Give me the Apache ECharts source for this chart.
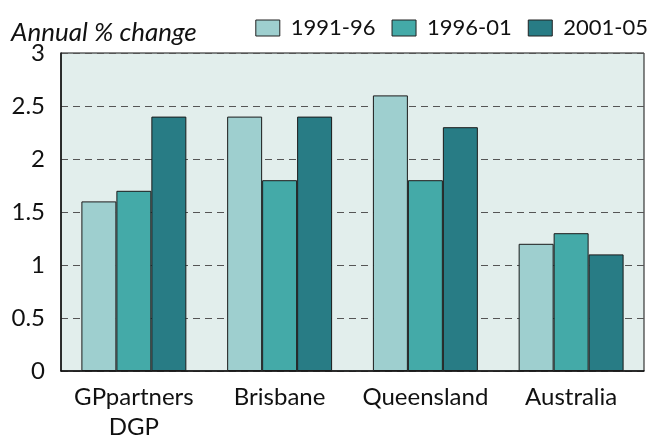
<!DOCTYPE html>
<html>
<head>
<meta charset="utf-8">
<script src="https://cdn.jsdelivr.net/npm/echarts@6/dist/echarts.min.js"></script>
<style>
  html, body { margin: 0; padding: 0; background: #fff; }
  #chart { width: 659px; height: 435px; }
</style>
</head>
<body>
<div id="chart"></div>
<script>
var categories = ['GPpartners\nDGP', 'Brisbane', 'Queensland', 'Australia'];
var seriesNames = ['1991-96', '1996-01', '2001-05'];
var values1991 = [1.6, 2.4, 2.6, 1.2];
var values1996 = [1.7, 1.8, 1.8, 1.3];
var values2001 = [2.4, 2.4, 2.3, 1.1];
var colors = ['#9ecfcf', '#44aaa8', '#287c85'];

var font = 'Lato, "DejaVu Sans", sans-serif';

function makeSeries(name, data, color) {
    return {
        name: name,
        type: 'bar',
        data: data,
        barGap: '0%',
        barCategoryGap: '28%',
        itemStyle: {
            color: color,
            borderColor: '#1a1a1a',
            borderWidth: 1
        }
    };
}

var chart = echarts.init(document.getElementById('chart'));
chart.setOption({
    animation: false,
    textStyle: { fontFamily: font },
    title: {
        text: 'Annual % change',
        left: 6,
        top: 15,
        textStyle: { fontFamily: font, fontStyle: 'italic', fontWeight: 'normal', fontSize: 26, color: '#111' }
    },
    legend: {
        data: seriesNames,
        right: 6,
        top: 12,
        itemWidth: 24,
        itemHeight: 16,
        itemGap: 16,
        icon: 'rect',
        itemStyle: { borderColor: '#222', borderWidth: 1 },
        textStyle: { fontFamily: font, fontSize: 22, color: '#111', padding: [0, 0, 0, 6] }
    },
    grid: {
        left: 61,
        right: 15,
        top: 53,
        bottom: 64,
        outerBoundsMode: 'none',
        show: true,
        backgroundColor: '#e2eeec',
        borderColor: '#111',
        borderWidth: 1
    },
    xAxis: {
        type: 'category',
        data: categories,
        axisLine: { lineStyle: { color: '#111', width: 1.5 } },
        axisTick: { show: false },
        axisLabel: { interval: 0, fontFamily: font, fontSize: 24, color: '#111', margin: 11, lineHeight: 30 }
    },
    yAxis: {
        type: 'value',
        min: 0,
        max: 3,
        interval: 0.5,
        axisLine: { show: true, lineStyle: { color: '#111', width: 1.5 } },
        axisTick: { show: false },
        axisLabel: { fontFamily: font, fontSize: 24, color: '#111', margin: 16 },
        splitLine: { lineStyle: { color: '#555', type: [7, 5], width: 1 } }
    },
    series: [
        makeSeries(seriesNames[0], values1991, colors[0]),
        makeSeries(seriesNames[1], values1996, colors[1]),
        makeSeries(seriesNames[2], values2001, colors[2])
    ]
});
</script>
</body>
</html>
